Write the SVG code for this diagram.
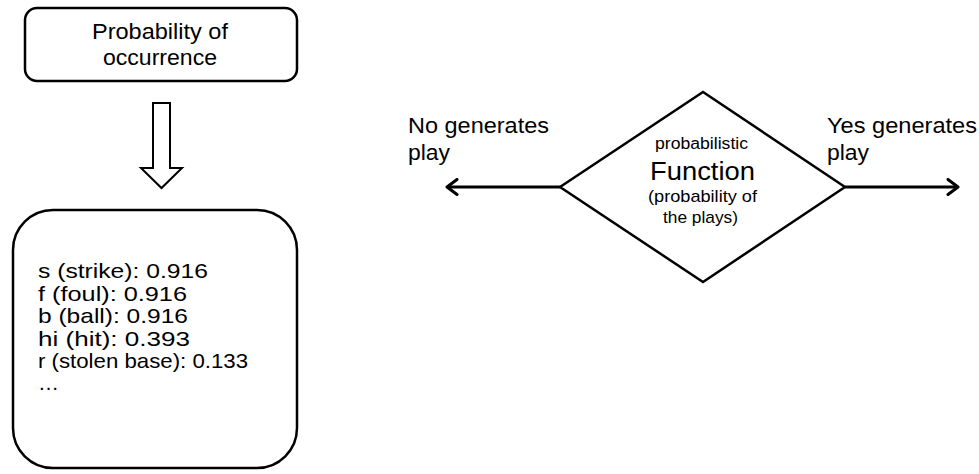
<svg xmlns="http://www.w3.org/2000/svg" width="979" height="474" viewBox="0 0 979 474">
<defs>
<style>
.box{fill:#fff;stroke:#000;stroke-width:2.5}
.t{font-family:"Liberation Sans",Arial,sans-serif;fill:#000}
.line{stroke:#000;stroke-width:3;fill:none}
</style>
<marker id="chev" viewBox="0 0 14 18" refX="12" refY="9" markerWidth="14" markerHeight="18" markerUnits="userSpaceOnUse" orient="auto">
<path d="M2,1.5 L12,9 L2,16.5" fill="none" stroke="#000" stroke-width="3" stroke-linecap="round" stroke-linejoin="round"/>
</marker>
</defs>
<rect width="979" height="474" fill="#fff"/>
<g id="top-box">
<rect class="box" x="25" y="8" width="272" height="73" rx="12"/>
<text class="t" x="92" y="39" font-size="22" textLength="136" lengthAdjust="spacingAndGlyphs">Probability of</text>
<text class="t" x="103" y="65" font-size="22" textLength="114" lengthAdjust="spacingAndGlyphs">occurrence</text>
</g>
<g id="bottom-box">
<rect class="box" x="13" y="210" width="284" height="258" rx="40"/>
<text class="t" font-size="21" x="38" y="278" textLength="170" lengthAdjust="spacingAndGlyphs">s (strike): 0.916</text>
<text class="t" font-size="21" x="38" y="301" textLength="149" lengthAdjust="spacingAndGlyphs">f (foul): 0.916</text>
<text class="t" font-size="21" x="38" y="323" textLength="150" lengthAdjust="spacingAndGlyphs">b (ball): 0.916</text>
<text class="t" font-size="21" x="38" y="346" textLength="152" lengthAdjust="spacingAndGlyphs">hi (hit): 0.393</text>
<text class="t" font-size="21" x="38" y="368" textLength="210" lengthAdjust="spacingAndGlyphs">r (stolen base): 0.133</text>
<text class="t" font-size="21" x="38" y="390">…</text>
</g>
<g id="function">
<polygon class="box" points="560,187 703,92 845,187 703,282"/>
<text class="t" x="655" y="149" font-size="16" textLength="93" lengthAdjust="spacingAndGlyphs">probabilistic</text>
<text class="t" x="650" y="180" font-size="25.5" textLength="105" lengthAdjust="spacingAndGlyphs">Function</text>
<text class="t" x="648" y="202" font-size="17" textLength="109" lengthAdjust="spacingAndGlyphs">(probability of</text>
<text class="t" x="663" y="223" font-size="17" textLength="75" lengthAdjust="spacingAndGlyphs">the plays)</text>
</g>
<g id="labels">
<text class="t" x="408" y="133" font-size="22" textLength="141" lengthAdjust="spacingAndGlyphs">No generates</text>
<text class="t" x="408" y="160" font-size="22" textLength="42" lengthAdjust="spacingAndGlyphs">play</text>
<text class="t" x="827" y="133" font-size="22" textLength="150" lengthAdjust="spacingAndGlyphs">Yes generates</text>
<text class="t" x="827" y="160" font-size="22" textLength="42" lengthAdjust="spacingAndGlyphs">play</text>
</g>
<g id="connectors">
<path d="M153,103 H170 V168 H182 L161.5,188 L141,168 H153 Z" fill="#fff" stroke="#000" stroke-width="2"/>
<line class="line" x1="560" y1="187" x2="447" y2="187" marker-end="url(#chev)"/>
<line class="line" x1="845" y1="187" x2="958" y2="187" marker-end="url(#chev)"/>
</g>
</svg>
